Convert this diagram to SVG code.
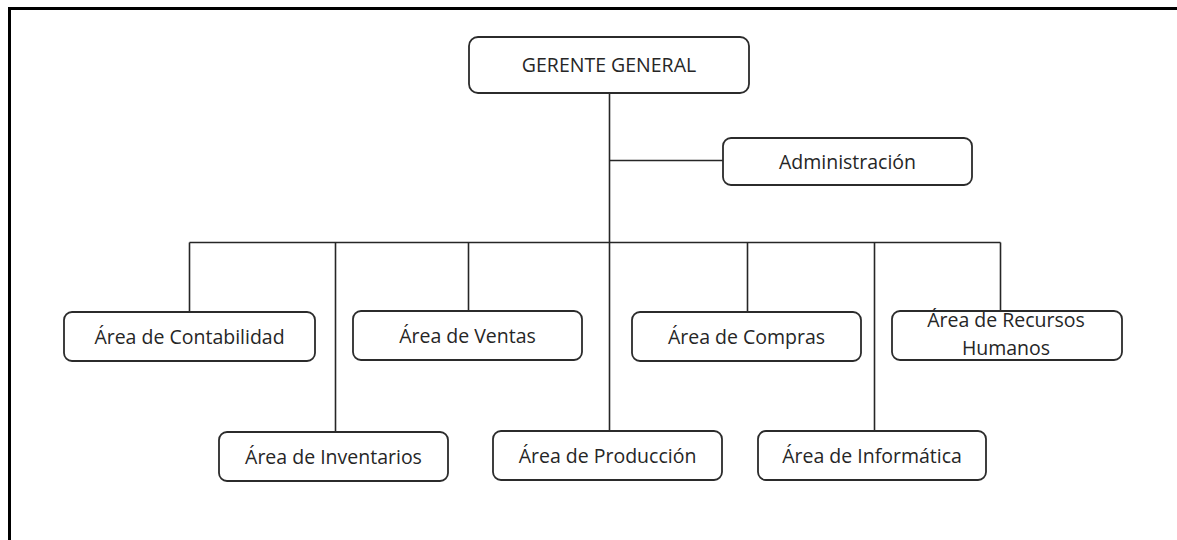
<svg xmlns="http://www.w3.org/2000/svg" width="1177" height="540" viewBox="0 0 1177 540">
<style>
.box{fill:#ffffff;stroke:#2b2b2b;stroke-width:1.8}
.lbl{font-family:"Open Sans","Liberation Sans",sans-serif;font-size:19.5px;fill:#262626;text-anchor:middle}
.con{stroke:#262626;stroke-width:1.6;fill:none}
.frame{stroke:#000000;stroke-width:3;fill:none}
</style>
<rect x="0" y="0" width="1177" height="540" fill="#ffffff"/>
<path class="frame" d="M9.5,540 V8.5 H1177"/>
<g id="connectors">
<path class="con" d="M609.5,93 V242.5"/>
<path class="con" d="M609.5,160.5 H723"/>
<path class="con" d="M189.5,242.5 H1000.5"/>
<path class="con" d="M189.5,242.5 V312"/>
<path class="con" d="M335.5,242.5 V432"/>
<path class="con" d="M468.5,242.5 V311"/>
<path class="con" d="M609.5,242.5 V431"/>
<path class="con" d="M747.5,242.5 V312"/>
<path class="con" d="M874.5,242.5 V431"/>
<path class="con" d="M1000.5,242.5 V311"/>
</g>
<g id="gerente">
<rect class="box" x="469" y="37" width="280" height="56" rx="9"/>
<text class="lbl" x="609" y="72">GERENTE GENERAL</text>
</g>
<g id="administracion">
<rect class="box" x="723" y="138" width="249" height="47" rx="8"/>
<text class="lbl" x="847.5" y="168.5">Administración</text>
</g>
<g id="contabilidad">
<rect class="box" x="64" y="312" width="251" height="49" rx="8"/>
<text class="lbl" x="189.5" y="343.5">Área de Contabilidad</text>
</g>
<g id="ventas">
<rect class="box" x="353" y="311" width="229" height="49" rx="8"/>
<text class="lbl" x="467.5" y="342.5">Área de Ventas</text>
</g>
<g id="compras">
<rect class="box" x="632" y="312" width="229" height="49" rx="8"/>
<text class="lbl" x="746.5" y="343.5">Área de Compras</text>
</g>
<g id="recursos-humanos">
<rect class="box" x="892" y="311" width="230" height="49" rx="8"/>
<text class="lbl" x="1006" y="327">Área de Recursos</text>
<text class="lbl" x="1006" y="355">Humanos</text>
</g>
<g id="inventarios">
<rect class="box" x="219" y="432" width="229" height="49" rx="8"/>
<text class="lbl" x="333.5" y="463.5">Área de Inventarios</text>
</g>
<g id="produccion">
<rect class="box" x="493" y="431" width="229" height="49" rx="8"/>
<text class="lbl" x="607.5" y="462.5">Área de Producción</text>
</g>
<g id="informatica">
<rect class="box" x="758" y="431" width="228" height="49" rx="8"/>
<text class="lbl" x="872" y="462.5">Área de Informática</text>
</g>
</svg>
